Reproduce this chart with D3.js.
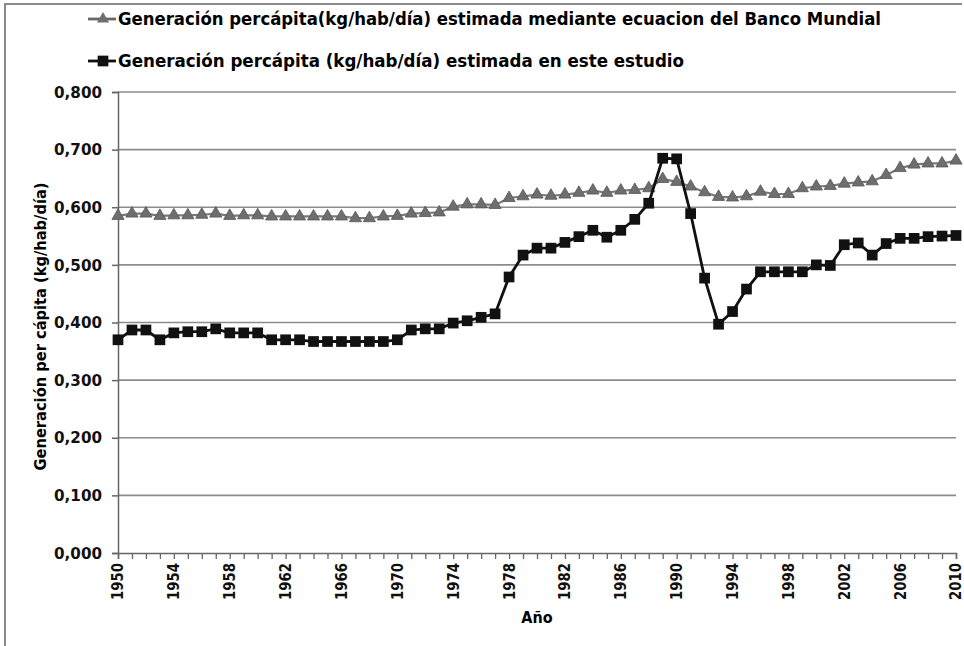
<!DOCTYPE html>
<html>
<head>
<meta charset="utf-8">
<script src="https://cdn.jsdelivr.net/npm/d3@7"></script>
<style>
  html, body { margin: 0; padding: 0; background: #fff; }
  svg { display: block; font-family: "DejaVu Sans Condensed", "Open Sans", sans-serif; }
</style>
</head>
<body>
<svg id="chart" width="964" height="646"></svg>
<script>
// Years on the x axis (1950-2010, one point per year)
const years = [
  1950,1951,1952,1953,1954,1955,1956,1957,1958,1959,
  1960,1961,1962,1963,1964,1965,1966,1967,1968,1969,
  1970,1971,1972,1973,1974,1975,1976,1977,1978,1979,
  1980,1981,1982,1983,1984,1985,1986,1987,1988,1989,
  1990,1991,1992,1993,1994,1995,1996,1997,1998,1999,
  2000,2001,2002,2003,2004,2005,2006,2007,2008,2009,2010
];

// World Bank equation estimate (triangles, gray)
const bancoMundial = [
  0.585,0.589,0.589,0.585,0.586,0.586,0.587,0.589,0.585,0.586,
  0.586,0.584,0.584,0.584,0.584,0.584,0.584,0.581,0.581,0.584,
  0.585,0.589,0.590,0.591,0.601,0.605,0.605,0.604,0.616,0.619,
  0.622,0.620,0.622,0.625,0.629,0.625,0.629,0.630,0.633,0.649,
  0.644,0.636,0.626,0.618,0.617,0.619,0.627,0.623,0.623,0.633,
  0.636,0.637,0.641,0.643,0.645,0.656,0.668,0.674,0.676,0.676,0.681
];

// This study's estimate (squares, black)
const esteEstudio = [
  0.370,0.387,0.387,0.370,0.382,0.384,0.384,0.389,0.382,0.382,
  0.382,0.370,0.370,0.370,0.367,0.367,0.367,0.367,0.367,0.367,
  0.370,0.387,0.389,0.389,0.399,0.403,0.409,0.415,0.479,0.517,
  0.529,0.529,0.539,0.549,0.560,0.548,0.560,0.579,0.607,0.685,
  0.684,0.589,0.477,0.397,0.419,0.458,0.488,0.488,0.488,0.488,
  0.500,0.499,0.535,0.538,0.517,0.537,0.546,0.546,0.549,0.550,0.551
];

const yTicks = [0, 0.1, 0.2, 0.3, 0.4, 0.5, 0.6, 0.7, 0.8];
const xLabelYears = [1950,1954,1958,1962,1966,1970,1974,1978,1982,1986,1990,1994,1998,2002,2006,2010];

const legendLabels = [
  'Generación percápita(kg/hab/día) estimada mediante ecuacion del Banco Mundial',
  'Generación percápita (kg/hab/día) estimada en este estudio'
];

const svg = d3.select('#chart');
const M = { left: 118, right: 956, top: 92, bottom: 553 };

const x = d3.scaleLinear().domain([1950, 2010]).range([M.left, M.right]);
const y = d3.scaleLinear().domain([0, 0.8]).range([M.bottom, M.top]);
const fmt = v => d3.format('.3f')(v).replace('.', ',');
const FONT = '"DejaVu Sans Condensed", "Open Sans", sans-serif';

// outer frame (top + left edges of the scanned figure)
svg.append('path')
  .attr('d', `M5,646 L5,4 L962,4`)
  .attr('fill', 'none')
  .attr('stroke', '#8a8a8a')
  .attr('stroke-width', 2);

// gridlines
svg.append('g')
  .selectAll('line')
  .data(yTicks.filter(d => d > 0))
  .join('line')
  .attr('x1', M.left).attr('x2', M.right)
  .attr('y1', d => y(d)).attr('y2', d => y(d))
  .attr('stroke', '#8c8c8c')
  .attr('stroke-width', 1.6);

// y axis
const yAxis = svg.append('g')
  .attr('transform', `translate(${M.left},0)`)
  .call(d3.axisLeft(y).tickValues(yTicks).tickFormat(fmt).tickSize(6).tickPadding(10));
yAxis.select('.domain').attr('stroke', '#666').attr('stroke-width', 1.5);
yAxis.selectAll('.tick line').attr('stroke', '#666').attr('stroke-width', 1.5);
yAxis.selectAll('text')
  .attr('font-size', 16).attr('font-weight', 700).attr('fill', '#111')
  .attr('font-family', FONT)
  .attr('textLength', 48).attr('lengthAdjust', 'spacingAndGlyphs');

// x axis: a tick per year, labels every 4 years
const xAxis = svg.append('g')
  .attr('transform', `translate(0,${M.bottom})`)
  .call(d3.axisBottom(x).tickValues(years).tickSize(6)
    .tickFormat(d => xLabelYears.includes(d) ? String(d) : ''));
xAxis.select('.domain').attr('stroke', '#666').attr('stroke-width', 1.5);
xAxis.selectAll('.tick line').attr('stroke', '#666').attr('stroke-width', 1.3);
xAxis.selectAll('text')
  .attr('font-size', 15).attr('font-weight', 700).attr('fill', '#111')
  .attr('font-family', FONT)
  .attr('transform', 'rotate(-90)')
  .attr('text-anchor', 'end')
  .attr('dy', '0.33em')
  .attr('x', -10).attr('y', 0)
  .attr('textLength', 37).attr('lengthAdjust', 'spacingAndGlyphs');

// axis titles
svg.append('text')
  .attr('x', 537).attr('y', 623)
  .attr('text-anchor', 'middle')
  .attr('font-size', 16).attr('font-weight', 700)
  .text('Año');

svg.append('text')
  .attr('transform', `translate(46,${(M.top + M.bottom) / 2 + 4}) rotate(-90)`)
  .attr('text-anchor', 'middle')
  .attr('font-size', 16).attr('font-weight', 700)
  .attr('textLength', 288).attr('lengthAdjust', 'spacingAndGlyphs')
  .text('Generación per cápita (kg/hab/día)');

const line = d3.line().x((d, i) => x(years[i])).y(d => y(d));
const tri = d3.symbol().type(d3.symbolTriangle).size(64);
const sq = d3.symbol().type(d3.symbolSquare).size(115);

// gray series (triangles)
svg.append('path')
  .datum(bancoMundial)
  .attr('d', line)
  .attr('fill', 'none')
  .attr('stroke', '#7a7a7a')
  .attr('stroke-width', 2.2);
svg.append('g')
  .selectAll('path')
  .data(bancoMundial)
  .join('path')
  .attr('d', tri)
  .attr('transform', (d, i) => `translate(${x(years[i])},${y(d)})`)
  .attr('fill', '#6e6e6e')
  .attr('stroke', '#555')
  .attr('stroke-width', 0.8);

// black series (squares)
svg.append('path')
  .datum(esteEstudio)
  .attr('d', line)
  .attr('fill', 'none')
  .attr('stroke', '#111')
  .attr('stroke-width', 2.8);
svg.append('g')
  .selectAll('path')
  .data(esteEstudio)
  .join('path')
  .attr('d', sq)
  .attr('transform', (d, i) => `translate(${x(years[i])},${y(d)})`)
  .attr('fill', '#111');

// legend
const legend = svg.append('g');
const legendRows = [
  { label: legendLabels[0], y: 19, color: '#666', sym: tri, fill: '#6e6e6e', width: 763 },
  { label: legendLabels[1], y: 61, color: '#111', sym: sq, fill: '#111', width: 566 }
];
legendRows.forEach(r => {
  legend.append('line')
    .attr('x1', 88).attr('x2', 116).attr('y1', r.y).attr('y2', r.y)
    .attr('stroke', r.color).attr('stroke-width', 2.8);
  legend.append('path')
    .attr('d', r.sym)
    .attr('transform', `translate(103,${r.y})`)
    .attr('fill', r.fill);
  legend.append('text')
    .attr('x', 118).attr('y', r.y).attr('dy', '0.36em')
    .attr('font-size', 18).attr('font-weight', 700)
    .attr('textLength', r.width).attr('lengthAdjust', 'spacingAndGlyphs')
    .text(r.label);
});
</script>
</body>
</html>
